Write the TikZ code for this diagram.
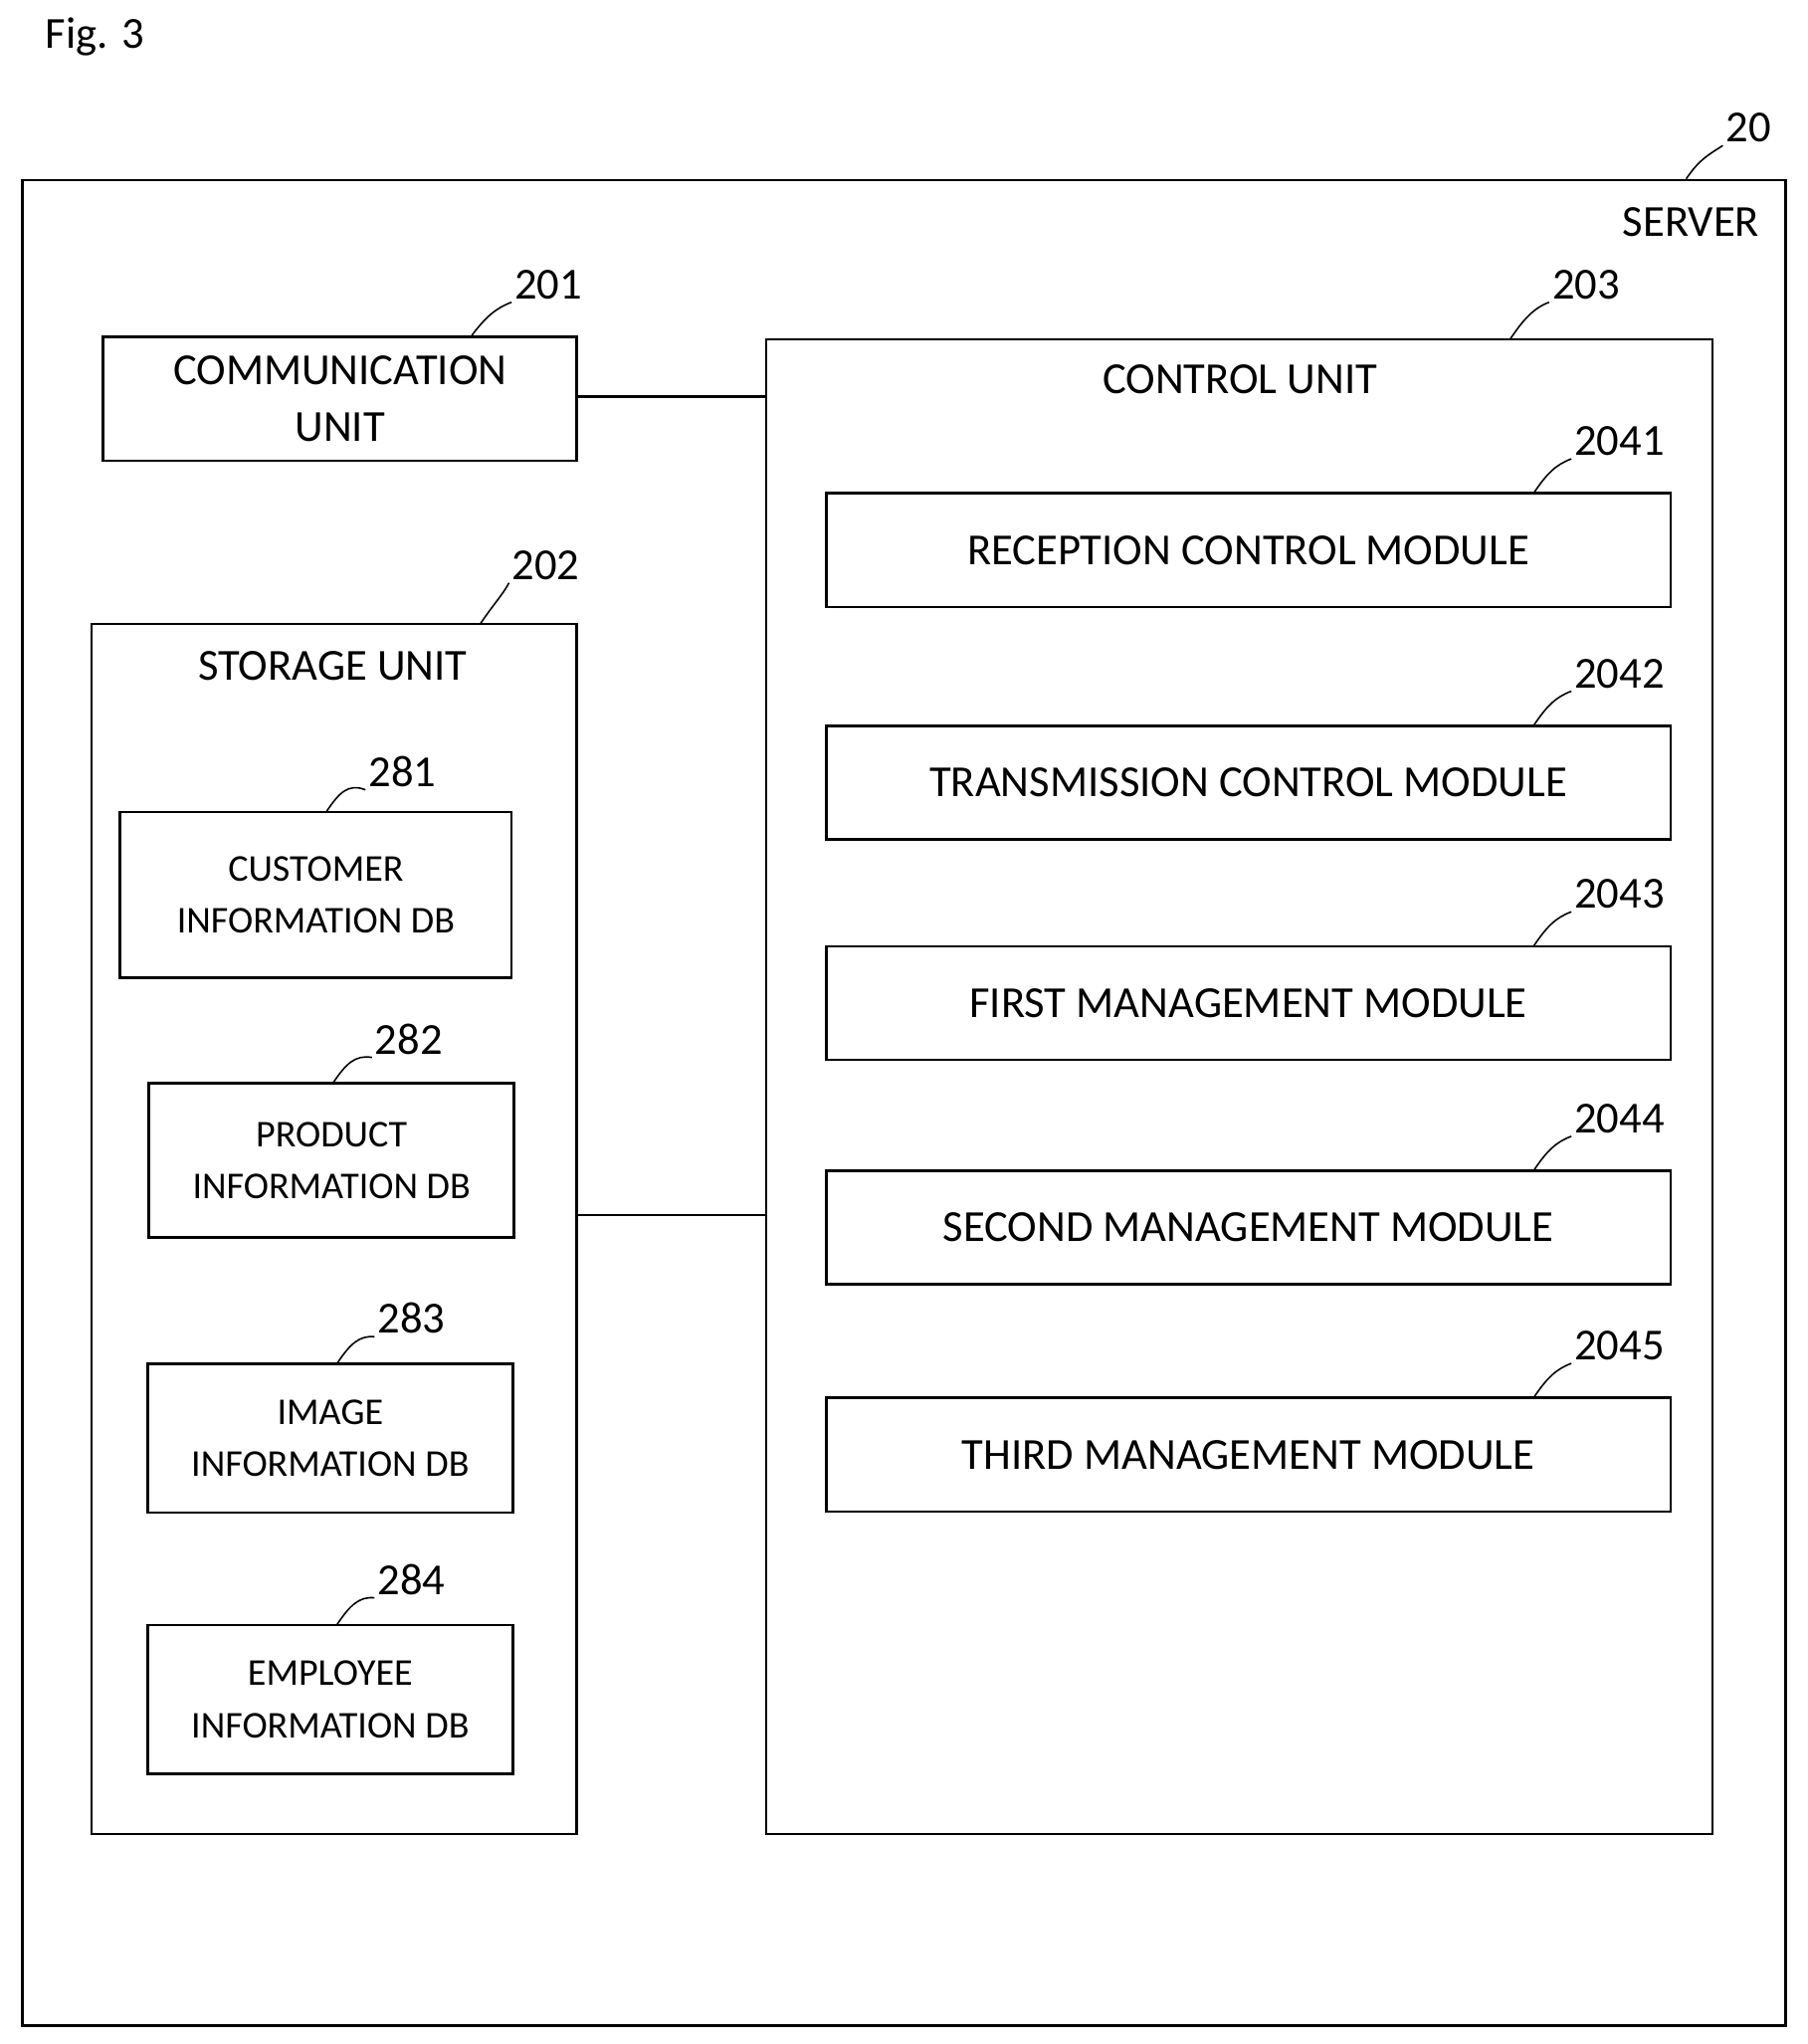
\documentclass[tikz,border=0pt]{standalone}
\usepackage{fontspec}
\setmainfont{Carlito}
\begin{document}
\begin{tikzpicture}[x=0.5pt,y=-0.5pt,
  box/.style={draw,line width=1pt},
  big/.style={font=\fontsize{17}{20}\selectfont},
  small/.style={font=\fontsize{14.5}{20}\selectfont,align=center},
  num/.style={font=\fontsize{17}{20}\selectfont,anchor=west,inner sep=1pt},
  lead/.style={line width=0.6pt}]
\useasboundingbox (0,0) rectangle (1385,1566);
\node[big,anchor=west] (fig) at (28,28) {Fig. 3};
% server
\draw[box] (17,138) rectangle (1368,1552);
\node[big,anchor=east] (server) at (1355,170) {SERVER};
\node[num] (n20) at (1320,98) {20};
\coordinate (s20) at (1292,137);
\draw[lead] (s20) .. controls (1302,122) and (1310,118) .. (n20.south west);
% comm
\node[box,big,minimum width=363*0.5pt,minimum height=95*0.5pt,align=center,inner sep=0pt] (comm) at (260.5,305.5) {COMMUNICATION\\[2pt]UNIT};
\node[num] (n201) at (392,218) {201};
\draw[lead] (comm.north)++(101,0) coordinate (c201);
\draw[lead] (c201) .. controls (372,243) and (380,236) .. (n201.south west);
% control unit
\draw[box] (587,260) rectangle (1312,1405);
\node[big] (ctrl) at (950,291) {CONTROL UNIT};
\coordinate (c203) at (1157,260);
\node[num] (n203) at (1187,218) {203};
\draw[lead] (c203) .. controls (1167,245) and (1175,236) .. (n203.south west);
\foreach \n/\t/\y in {2041/RECEPTION CONTROL MODULE/378,2042/TRANSMISSION CONTROL MODULE/556,2043/FIRST MANAGEMENT MODULE/725,2044/SECOND MANAGEMENT MODULE/897,2045/THIRD MANAGEMENT MODULE/1071}{
  \node[box,big,minimum width=647*0.5pt,minimum height=87*0.5pt,inner sep=0pt] (m\n) at (956.5,\y+43.5) {\t};
  \node[num] (n\n) at (1204,\y-40) {\n};
  \coordinate (c\n) at (1175,\y);
  \draw[lead] (c\n) .. controls (1185,\y-15) and (1192,\y-22) .. (n\n.south west);
}
% storage
\draw[box] (70,478) rectangle (442,1405);
\node[big] (stor) at (255,510) {STORAGE UNIT};
\coordinate (c202) at (368,478);
\node[num] (n202) at (390,433) {202};
\draw[lead] (c202) .. controls (378,463) and (385,456) .. (n202.south west);
\foreach \n/\a/\x/\y/\X/\Y/\lx/\ly/\sx in {281/CUSTOMER/92/622/392/749/280/591/250,282/PRODUCT/114/830/394/948/285/796/255,283/IMAGE/113/1045/393/1159/287/1010/258,284/EMPLOYEE/113/1245/393/1359/287/1210/258}{
  \node[box,small,minimum width={(\X-\x)*0.5pt},minimum height={(\Y-\y)*0.5pt},inner sep=0pt] (d\n) at ({(\x+\X)/2},{(\y+\Y)/2}) {\a\\INFORMATION DB};
  \node[num] (n\n) at (\lx,\ly) {\n};
  \coordinate (c\n) at (\sx,\y);
  \draw[lead] (c\n) .. controls (\sx+10,\y-15) and (\sx+17,\y-22) .. (n\n.south west);
}
% connectors
\coordinate (cu) at (587,304);
\coordinate (su) at (442,931);
\coordinate (cu2) at (587,931);
\draw[line width=1pt] (comm.east |- cu) -- (cu);
\draw[line width=1pt] (su) -- (cu2);
\end{tikzpicture}
\end{document}
